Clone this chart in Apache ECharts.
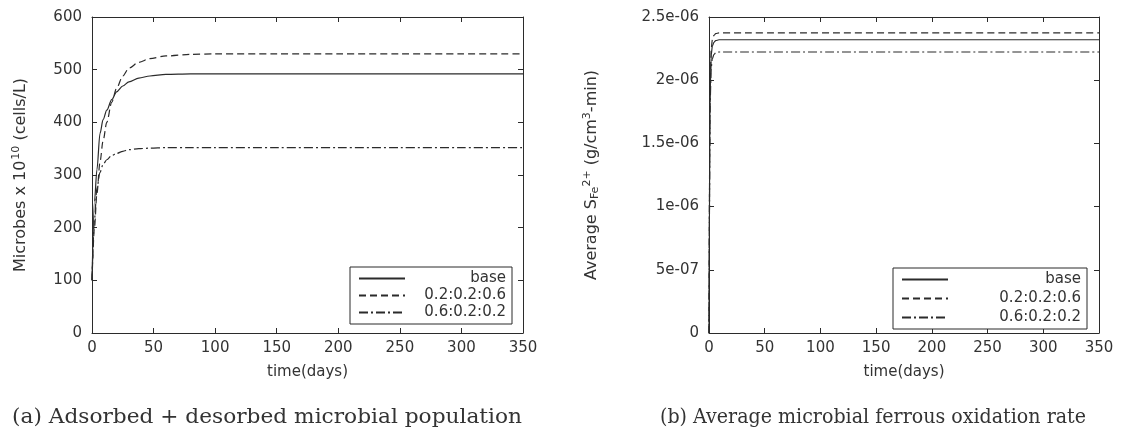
<!DOCTYPE html>
<html>
<head>
<meta charset="utf-8">
<title>Microbial population and ferrous oxidation rate</title>
<script src="https://cdn.jsdelivr.net/npm/echarts@6/dist/echarts.min.js"></script>
<style>
  html, body { margin: 0; padding: 0; background: #fff; }
  #chart { width: 1123px; height: 432px; }
</style>
</head>
<body>
<div id="chart"></div>
<script>
// (a) adsorbed + desorbed microbial population, x 10^10 cells/L
const daysA = [0, 2, 4, 6.5, 9, 12, 16, 20, 25, 30, 38, 47, 60, 80, 100, 150, 200, 250, 300, 350]
const baseA = [100, 250, 310, 379, 405, 423, 443, 458, 469, 477, 484, 488, 491, 492, 492, 492, 492, 492, 492, 492]
const r226A = [100, 200, 265, 325, 365, 400, 438, 465, 488, 503, 514, 521, 526, 529, 530, 530, 530, 530, 530, 530]
const r622A = [100, 215, 275, 305, 320, 329, 337, 341, 345, 348, 350, 351, 352, 352, 352, 352, 352, 352, 352, 352]

// (b) average microbial ferrous oxidation rate, g/cm3-min
const daysB = [0, 1, 2, 3, 4.5, 6, 9, 350]
const baseB = [0, 1.9e-6, 2.2e-6, 2.27e-6, 2.3e-6, 2.313e-6, 2.32e-6, 2.32e-6]
const r226B = [0, 1.95e-6, 2.25e-6, 2.32e-6, 2.355e-6, 2.368e-6, 2.375e-6, 2.375e-6]
const r622B = [0, 1.82e-6, 2.1e-6, 2.17e-6, 2.205e-6, 2.217e-6, 2.223e-6, 2.223e-6]

const seriesNames = ['base', '0.2:0.2:0.6', '0.6:0.2:0.2']
const yTicksB = ['0', '5e-07', '1e-06', '1.5e-06', '2e-06', '2.5e-06']
const captions = [
  '(a) Adsorbed + desorbed microbial population',
  '(b) Average microbial ferrous oxidation rate'
]

const ink = '#2b2b2b'
const sans = 'DejaVu Sans'
const capFont = '21px "DejaVu Serif"'
const dashes = ['solid', [7, 4], [9, 3, 2, 3]]

const zip = (xs, ys) => xs.map((x, i) => [x, ys[i]])

// squeeze captions to the width they take in the scan
const measure = document.createElement('canvas').getContext('2d')
measure.font = capFont
const capScale = (text, w) => w / measure.measureText(text).width

const chart = echarts.init(document.getElementById('chart'), null, { renderer: 'canvas' })

const xAxisBase = (gridIndex, position, labels) => ({
  type: 'value',
  gridIndex,
  position,
  min: 0,
  max: 350,
  interval: 50,
  splitLine: { show: false },
  axisLine: { show: true, onZero: false, lineStyle: { color: ink, width: 1 } },
  axisTick: { show: true, inside: true, length: 5, lineStyle: { color: ink } },
  axisLabel: { show: labels, color: '#333', fontFamily: sans, fontSize: 15, margin: 8 }
})

const yAxisBase = (gridIndex, position, max, interval, labels) => ({
  type: 'value',
  gridIndex,
  position,
  min: 0,
  max,
  interval,
  splitLine: { show: false },
  axisLine: { show: true, onZero: false, lineStyle: { color: ink, width: 1 } },
  axisTick: { show: true, inside: true, length: 5, lineStyle: { color: ink } },
  axisLabel: { show: labels, color: '#333', fontFamily: sans, fontSize: 15, margin: 10 }
})

const xName = {
  name: 'time(days)', nameLocation: 'middle', nameGap: 32,
  nameTextStyle: { color: '#333', fontFamily: sans, fontSize: 15 }
}

const xAxes = [
  Object.assign(xAxisBase(0, 'bottom', true), xName),
  Object.assign(xAxisBase(1, 'bottom', true), xName),
  xAxisBase(0, 'top', false),
  xAxisBase(1, 'top', false)
]

const yLeftA = yAxisBase(0, 'left', 600, 100, true)
yLeftA.name = 'Microbes x 10{sup|10} (cells/L)'
yLeftA.nameLocation = 'middle'
yLeftA.nameRotate = 90
yLeftA.nameGap = 62
yLeftA.nameTextStyle = {
  color: '#333', fontFamily: sans, fontSize: 16,
  rich: { sup: { fontSize: 11, fontFamily: sans, color: '#333', verticalAlign: 'top', padding: [0, 0, 8, 1] } }
}

const yLeftB = yAxisBase(1, 'left', 2.5e-6, 5e-7, true)
yLeftB.axisLabel.formatter = v => yTicksB[Math.round(v / 5e-7)]
yLeftB.name = 'Average S{sub|Fe}{sup|2+} (g/cm{sup|3}-min)'
yLeftB.nameLocation = 'middle'
yLeftB.nameRotate = 90
yLeftB.nameGap = 108
yLeftB.nameTextStyle = {
  color: '#333', fontFamily: sans, fontSize: 16,
  rich: {
    sup: { fontSize: 11, fontFamily: sans, color: '#333', verticalAlign: 'top', padding: [0, 0, 8, 0] },
    sub: { fontSize: 11, fontFamily: sans, color: '#333', verticalAlign: 'bottom', padding: [6, 0, 0, 0] }
  }
}

const yAxes = [
  yLeftA,
  yLeftB,
  yAxisBase(0, 'right', 600, 100, false),
  yAxisBase(1, 'right', 2.5e-6, 5e-7, false)
]

const makeSeries = (name, idx, grid, xs, ys) => ({
  name,
  type: 'line',
  xAxisIndex: grid,
  yAxisIndex: grid,
  data: zip(xs, ys),
  symbol: 'none',
  smooth: 0.3,
  smoothMonotone: 'x',
  animation: false,
  lineStyle: { color: ink, width: 1.2, type: dashes[idx] },
  itemStyle: { color: ink }
})

const legendBase = (left, top, textWidth, gap) => ({
  orient: 'vertical',
  left,
  top,
  data: seriesNames,
  itemWidth: 46,
  itemHeight: 14,
  itemGap: gap,
  padding: [4, 6, 4, 8],
  backgroundColor: '#fff',
  borderColor: ink,
  borderWidth: 1,
  borderRadius: 0,
  selectedMode: false,
  itemStyle: { opacity: 0 },
  formatter: name => '{r|' + name + '}',
  textStyle: {
    color: '#333', fontFamily: sans, fontSize: 15,
    rich: { r: { width: textWidth, align: 'right', fontFamily: sans, fontSize: 15, color: '#333' } }
  }
})

chart.setOption({
  backgroundColor: '#fff',
  animation: false,
  grid: [
    { left: 92, right: 600, top: 17, bottom: 99 },
    { left: 709, right: 24, top: 17, bottom: 99 }
  ],
  xAxis: xAxes,
  yAxis: yAxes,
  legend: [
    legendBase(350, 267, 96, 2),
    legendBase(893, 268, 128, 4)
  ],
  series: [
    makeSeries(seriesNames[0], 0, 0, daysA, baseA),
    makeSeries(seriesNames[1], 1, 0, daysA, r226A),
    makeSeries(seriesNames[2], 2, 0, daysA, r622A),
    makeSeries(seriesNames[0], 0, 1, daysB, baseB),
    makeSeries(seriesNames[1], 1, 1, daysB, r226B),
    makeSeries(seriesNames[2], 2, 1, daysB, r622B)
  ],
  graphic: [
    {
      type: 'text', x: 12, y: 418, scaleX: capScale(captions[0], 510),
      style: { text: captions[0], fill: '#333', font: capFont, verticalAlign: 'middle' }
    },
    {
      type: 'text', x: 660, y: 418, scaleX: capScale(captions[1], 426),
      style: { text: captions[1], fill: '#333', font: capFont, verticalAlign: 'middle' }
    }
  ]
})
</script>
</body>
</html>
